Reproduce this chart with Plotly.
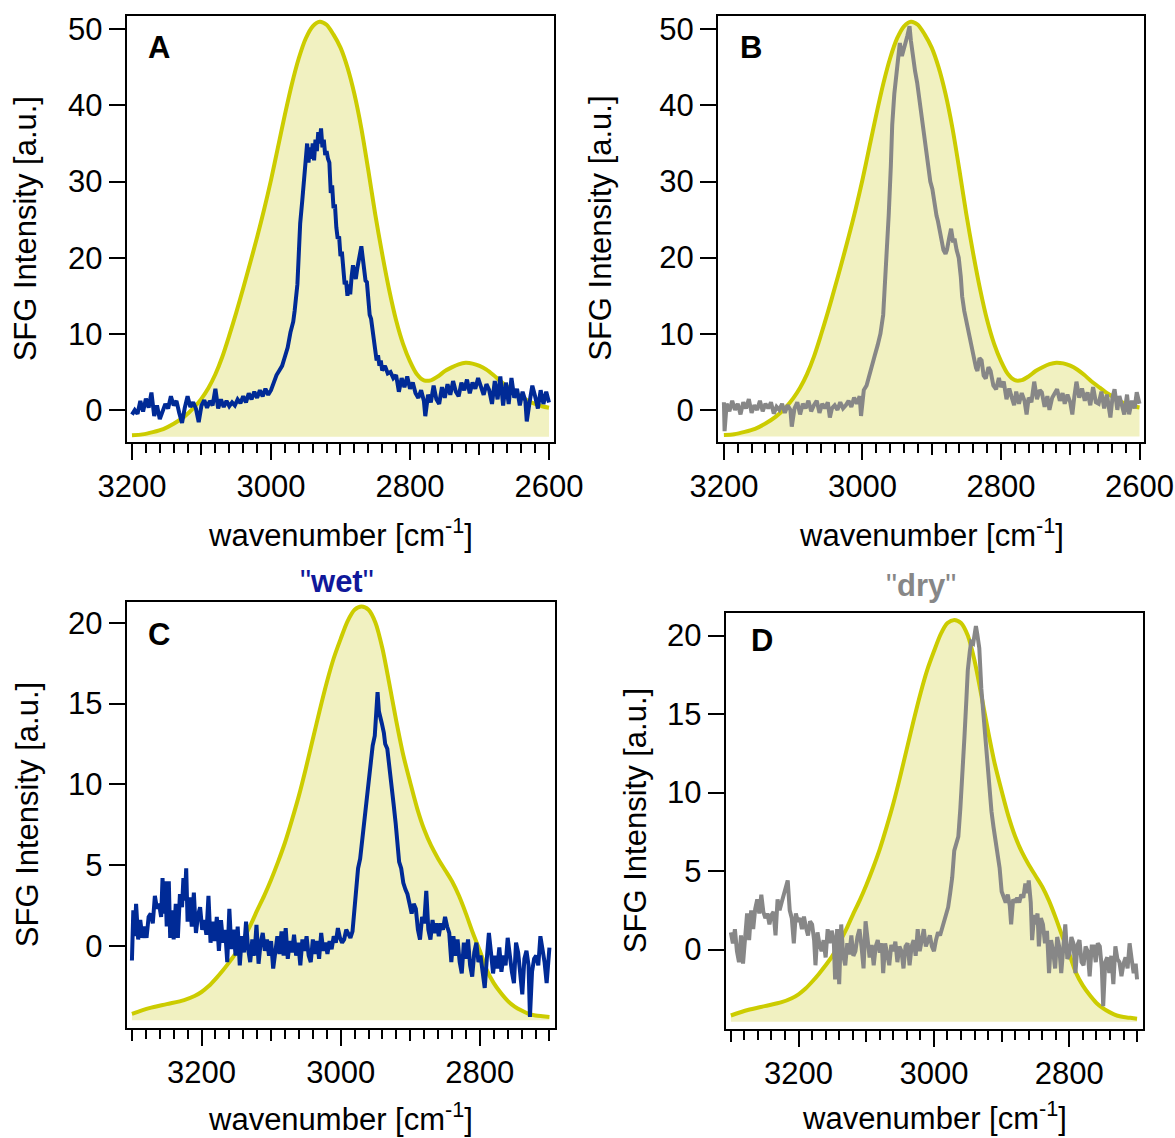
import plotly.graph_objects as go

FIG_W, FIG_H = 1175, 1138
FONT = "Liberation Sans, Arial, Helvetica, sans-serif"
BLUE = "#002A96"
WET_TITLE = "#10189A"
GRAY = "#878787"
FIT_LINE = "#CCCC00"
FIT_FILL = "#F1F1C1"

# ---------------- data (wavenumber [cm-1], SFG intensity [a.u.]) ----------------
WET_AB = [(3200, -0.6), (3196, 0.0), (3192, -0.5), (3188, 1.2), (3184, -0.2), (3180, 1.5), (3176, 0.3),
          (3172, 2.3), (3168, -0.8), (3164, 0.6), (3160, -1.2), (3156, -0.3), (3152, 0.8), (3148, 0.2),
          (3144, 1.8), (3140, 0.6), (3136, 1.2), (3132, -0.4), (3128, -1.7), (3124, 0.3), (3120, 1.8),
          (3116, 0.4), (3112, 1.0), (3108, 0.2), (3104, -1.6), (3100, 0.6), (3096, 1.3), (3092, 0.3),
          (3088, 1.2), (3084, 0.6), (3080, 2.8), (3076, 0.2), (3072, 1.4), (3068, 0.4), (3064, 1.2),
          (3060, 0.5), (3056, 1.0), (3052, 0.6), (3048, 1.4), (3044, 0.9), (3040, 1.8), (3036, 1.0),
          (3032, 2.2), (3028, 1.4), (3024, 2.4), (3020, 1.6), (3016, 2.6), (3012, 1.8), (3008, 2.8),
          (3004, 2.0), (3000, 2.6), (2996, 3.6), (2992, 4.6), (2988, 5.2), (2984, 5.8), (2980, 7.0),
          (2976, 8.2), (2972, 10.2), (2968, 11.6), (2966, 13.0), (2962, 16.5), (2960, 20.5), (2958, 24.5),
          (2955, 27.5), (2952, 31.0), (2950, 33.5), (2948, 35.0), (2946, 32.5), (2944, 34.5), (2942, 33.0),
          (2940, 35.0), (2938, 32.8), (2936, 35.5), (2934, 34.0), (2932, 36.5), (2930, 35.0), (2928, 37.0),
          (2926, 34.5), (2924, 35.5), (2922, 33.5), (2920, 34.0), (2918, 33.0), (2916, 32.5), (2914, 28.5),
          (2912, 29.5), (2910, 26.5), (2908, 27.0), (2906, 24.0), (2904, 22.5), (2902, 22.8), (2900, 20.2),
          (2898, 20.8), (2896, 18.5), (2894, 16.5), (2892, 17.0), (2890, 15.0), (2888, 16.5), (2886, 15.2),
          (2884, 17.5), (2882, 19.0), (2880, 18.0), (2878, 17.2), (2876, 18.5), (2874, 19.5), (2872, 20.5),
          (2870, 21.5), (2868, 20.0), (2866, 18.5), (2864, 17.0), (2862, 16.8), (2860, 14.5), (2858, 12.5),
          (2856, 12.0), (2854, 10.5), (2852, 10.0), (2850, 8.0), (2848, 6.5), (2846, 7.2), (2844, 5.8),
          (2842, 6.5), (2840, 5.2), (2836, 5.8), (2832, 4.8), (2828, 5.0), (2824, 4.2), (2820, 4.6),
          (2816, 2.4), (2812, 4.2), (2808, 3.0), (2804, 4.4), (2800, 2.8), (2796, 3.6), (2792, 2.2),
          (2788, 1.6), (2784, 2.6), (2780, 1.2), (2778, -0.8), (2774, 2.0), (2770, 1.0), (2766, 3.2),
          (2762, 1.4), (2758, 0.8), (2754, 3.0), (2750, 1.6), (2746, 3.4), (2742, 2.0), (2738, 3.8),
          (2734, 2.4), (2730, 1.8), (2726, 3.6), (2722, 2.6), (2718, 4.0), (2714, 2.2), (2710, 3.6),
          (2706, 2.8), (2702, 4.2), (2698, 3.0), (2694, 2.0), (2690, 3.4), (2686, 2.6), (2682, 0.8),
          (2678, 3.8), (2674, 1.4), (2670, 4.4), (2666, 0.6), (2662, 3.6), (2658, 0.8), (2654, 4.2),
          (2650, 1.6), (2646, 2.8), (2642, 0.6), (2638, 2.4), (2634, 1.2), (2632, -1.5), (2628, 1.0),
          (2624, 3.2), (2620, 1.8), (2616, 0.2), (2612, 2.6), (2608, 0.8), (2604, 2.4), (2600, 1.0)]

DRY_AB = [(3200, 1.0), (3199, -2.8), (3196, 0.8), (3192, -0.2), (3188, 1.2), (3184, 0.0), (3180, 0.8),
          (3176, -0.6), (3172, 1.0), (3168, 0.2), (3164, 1.4), (3160, -0.4), (3156, 0.6), (3152, 0.0),
          (3148, 1.2), (3144, -0.2), (3140, 0.8), (3136, 0.2), (3132, 1.0), (3128, -0.5), (3124, 0.4),
          (3120, 0.0), (3116, 0.8), (3112, -0.4), (3108, 0.6), (3104, 0.0), (3102, -2.2), (3098, 0.2),
          (3094, 1.0), (3090, -0.6), (3086, 0.8), (3082, 0.2), (3078, 1.2), (3074, -0.2), (3070, 0.6),
          (3066, 1.2), (3062, -0.4), (3058, 0.8), (3054, 0.2), (3050, 1.0), (3047, -1.0), (3044, 0.2),
          (3040, 0.6), (3036, 0.0), (3032, 1.0), (3028, 0.2), (3024, 0.6), (3020, 1.2), (3016, 0.4),
          (3012, 1.6), (3008, 0.8), (3004, 1.8), (3002, -0.8), (2998, 2.6), (2994, 3.2), (2990, 4.4),
          (2986, 6.0), (2982, 7.2), (2978, 8.5), (2974, 10.0), (2970, 12.5), (2968, 15.4), (2965, 20.0),
          (2962, 25.7), (2959, 32.0), (2957, 37.4), (2954, 41.5), (2951, 44.5), (2948, 47.0), (2946, 48.2),
          (2943, 46.5), (2940, 47.3), (2937, 48.5), (2935, 49.2), (2932, 50.4), (2930, 48.5), (2927, 46.3),
          (2924, 44.5), (2921, 43.0), (2918, 41.0), (2916, 39.8), (2913, 37.5), (2910, 36.0), (2907, 33.5),
          (2905, 32.3), (2902, 30.0), (2899, 29.0), (2896, 27.0), (2893, 25.5), (2891, 24.8), (2888, 23.5),
          (2886, 22.0), (2883, 21.0), (2880, 20.5), (2878, 21.0), (2875, 22.5), (2872, 23.8), (2869, 22.0),
          (2867, 22.5), (2864, 21.0), (2861, 20.0), (2858, 17.5), (2856, 14.9), (2853, 13.0), (2850, 11.6),
          (2847, 10.5), (2845, 9.8), (2842, 8.0), (2839, 6.5), (2836, 5.5), (2834, 5.1), (2831, 6.8),
          (2828, 6.5), (2825, 4.5), (2822, 4.1), (2818, 5.6), (2815, 5.1), (2811, 3.2), (2807, 2.7),
          (2803, 4.2), (2800, 3.0), (2796, 3.7), (2792, 1.4), (2788, 2.8), (2785, 1.8), (2781, 0.6),
          (2778, 2.4), (2774, 0.8), (2770, 2.2), (2766, 1.2), (2763, -0.6), (2760, 1.6), (2756, 1.0),
          (2752, 3.7), (2748, 1.4), (2744, 2.6), (2741, 2.3), (2737, 0.4), (2733, 1.8), (2730, 0.0),
          (2726, 1.6), (2722, 2.4), (2719, 2.7), (2715, 1.2), (2711, 2.2), (2708, 0.8), (2704, 2.0),
          (2700, 1.0), (2697, -0.6), (2694, 1.8), (2691, 3.7), (2687, 1.6), (2683, 2.8), (2679, 1.2),
          (2675, 2.3), (2671, 0.6), (2667, 3.0), (2663, 1.0), (2659, 0.8), (2655, 2.4), (2651, 0.2),
          (2647, 2.0), (2642, -1.0), (2639, 1.6), (2636, 2.7), (2632, 0.0), (2629, 1.8), (2626, 0.8),
          (2622, -0.6), (2618, 2.0), (2615, -0.6), (2611, 1.2), (2607, 0.2), (2604, 2.3), (2600, 0.8)]

WET_CD = [(3300, -0.9), (3298, 2.2), (3296, 0.6), (3294, 2.6), (3291, 0.4), (3288, 1.6), (3285, 0.5),
          (3282, 1.2), (3279, 0.5), (3276, 1.8), (3273, 2.0), (3270, 1.4), (3267, 3.1), (3264, 2.3),
          (3261, 2.6), (3258, 1.8), (3256, 4.2), (3254, 2.0), (3252, 4.0), (3250, 1.2), (3247, 4.0),
          (3245, 0.5), (3242, 2.2), (3240, 0.4), (3237, 2.6), (3234, 0.5), (3231, 3.2), (3228, 2.4),
          (3226, 4.2), (3224, 2.8), (3222, 4.8), (3220, 1.5), (3217, 3.0), (3214, 1.2), (3211, 3.3),
          (3208, 0.8), (3205, 1.9), (3202, 2.4), (3199, 1.0), (3196, 1.6), (3193, 0.7), (3190, 3.1),
          (3187, 0.2), (3184, 1.5), (3181, 0.3), (3178, 1.8), (3175, -0.3), (3172, 1.6), (3169, 0.2),
          (3166, 1.0), (3163, -1.0), (3160, 2.3), (3157, -0.2), (3154, 1.0), (3151, -0.6), (3148, 1.2),
          (3145, -1.2), (3142, 0.6), (3139, -0.4), (3136, 1.5), (3133, -0.2), (3130, -1.0), (3127, 0.4),
          (3124, -0.6), (3121, 1.3), (3118, -1.1), (3115, 0.2), (3112, 0.8), (3109, -0.3), (3106, 0.4),
          (3103, -0.6), (3100, 0.3), (3097, -1.4), (3094, -0.2), (3091, 0.6), (3088, -0.5), (3085, 0.9),
          (3082, -0.6), (3079, 1.1), (3076, -0.8), (3073, 0.3), (3070, -0.4), (3067, 0.7), (3064, -0.6),
          (3061, 0.2), (3058, -1.2), (3055, 0.4), (3052, -0.3), (3049, 0.6), (3046, -0.6), (3043, -1.0),
          (3040, 0.4), (3037, -0.5), (3034, 0.3), (3031, -0.8), (3028, 0.8), (3025, -0.3), (3022, 0.2),
          (3019, -0.5), (3016, 0.3), (3013, -0.2), (3010, 0.6), (3007, 0.2), (3004, 1.1), (3001, 0.5),
          (2998, 0.2), (2995, 0.4), (2992, 1.0), (2989, 0.7), (2986, 0.5), (2983, 0.9), (2980, 2.6),
          (2977, 4.0), (2975, 4.8), (2972, 5.4), (2969, 6.6), (2966, 7.9), (2963, 8.6), (2960, 9.8),
          (2957, 11.0), (2954, 12.4), (2951, 13.0), (2949, 14.3), (2947, 15.7), (2945, 14.5), (2943, 14.2),
          (2941, 13.8), (2938, 13.2), (2936, 12.5), (2933, 12.2), (2930, 11.2), (2927, 10.2), (2924, 8.8),
          (2921, 7.6), (2919, 6.5), (2916, 5.2), (2913, 4.8), (2910, 3.9), (2907, 3.5), (2904, 3.2),
          (2901, 2.6), (2898, 2.0), (2895, 2.6), (2892, 2.3), (2889, 1.0), (2886, 0.4), (2883, 1.8),
          (2880, 1.4), (2877, 3.4), (2874, 1.0), (2871, 0.4), (2868, 1.6), (2865, 0.8), (2862, 1.4),
          (2859, 0.6), (2856, 1.4), (2853, 1.0), (2850, 1.8), (2847, 1.2), (2844, 0.8), (2841, -1.0),
          (2838, 0.6), (2835, -0.6), (2832, 0.4), (2829, -1.0), (2826, -1.7), (2823, 0.2), (2820, -0.8),
          (2817, 0.4), (2814, -1.2), (2811, -1.9), (2808, -0.4), (2805, 0.2), (2802, -1.0), (2799, -0.6),
          (2796, -1.6), (2793, -2.6), (2790, -0.8), (2787, 0.8), (2784, -0.4), (2781, -1.7), (2778, -0.6),
          (2775, -1.4), (2772, -0.1), (2769, -1.6), (2766, -0.6), (2763, -1.2), (2760, 0.5), (2757, -0.8),
          (2754, -1.6), (2751, -2.3), (2748, 0.2), (2745, -0.4), (2742, -1.6), (2739, -3.0), (2736, -0.8),
          (2733, -0.3), (2730, -1.2), (2728, -4.4), (2725, -1.6), (2722, -0.8), (2719, -0.6), (2716, -1.2),
          (2713, 0.6), (2710, -0.2), (2707, -1.0), (2704, -2.3), (2701, -0.1), (2700, -0.1)]

DRY_CD = [(3300, 1.1), (3297, 0.4), (3294, 1.3), (3291, -0.1), (3288, -0.8), (3285, 0.9), (3282, -0.9),
          (3279, 0.8), (3276, 2.3), (3273, 0.6), (3270, 2.5), (3267, 1.3), (3264, 2.6), (3261, 3.2),
          (3258, 2.3), (3255, 3.5), (3252, 2.4), (3249, 2.0), (3246, 2.3), (3243, 1.6), (3240, 2.2),
          (3237, 2.4), (3234, 0.9), (3231, 3.2), (3228, 2.5), (3225, 3.0), (3222, 3.5), (3219, 3.9),
          (3216, 4.4), (3213, 2.5), (3210, 2.0), (3207, 0.4), (3204, 2.3), (3201, 1.8), (3198, 2.0),
          (3195, 1.3), (3192, 2.1), (3189, 1.4), (3186, 0.9), (3183, 1.8), (3180, 1.6), (3177, 0.6),
          (3175, -1.0), (3172, 1.1), (3169, 0.3), (3166, -0.1), (3163, 0.6), (3160, -0.5), (3157, 1.3),
          (3154, 0.4), (3151, 1.2), (3148, 0.6), (3146, -1.9), (3143, 1.3), (3140, -2.2), (3137, 1.6),
          (3134, -0.4), (3131, -1.0), (3128, 0.4), (3125, -0.3), (3122, 0.9), (3119, -0.4), (3116, -0.1),
          (3113, 0.8), (3110, 1.3), (3107, 0.2), (3104, -1.2), (3101, 1.8), (3098, 0.6), (3095, -0.5),
          (3092, 0.3), (3089, -1.0), (3086, 0.2), (3083, 0.6), (3080, -0.2), (3077, 0.4), (3075, -1.5),
          (3072, 0.4), (3069, -0.3), (3066, -1.0), (3063, 0.3), (3060, -0.1), (3057, 0.5), (3054, -0.8),
          (3051, 0.2), (3048, -0.1), (3045, -1.2), (3042, 0.2), (3039, 0.4), (3036, -1.0), (3033, 0.2),
          (3030, 0.6), (3027, -0.4), (3024, 1.3), (3021, -0.1), (3018, 0.6), (3015, 1.3), (3012, 0.2),
          (3009, 0.6), (3006, 0.9), (3003, 0.2), (3000, -0.1), (2997, 0.6), (2994, 1.1), (2991, 0.9),
          (2988, 1.3), (2985, 1.8), (2982, 2.2), (2979, 2.7), (2976, 3.6), (2973, 4.6), (2970, 6.3),
          (2967, 6.8), (2964, 7.2), (2961, 9.0), (2958, 11.0), (2955, 13.5), (2952, 16.0), (2950, 17.8),
          (2947, 19.0), (2945, 19.6), (2942, 19.5), (2940, 20.2), (2938, 20.6), (2936, 20.1), (2933, 19.2),
          (2930, 16.6), (2927, 15.0), (2924, 13.8), (2921, 12.0), (2918, 10.5), (2915, 8.8), (2912, 7.8),
          (2909, 7.0), (2906, 6.0), (2903, 5.2), (2900, 3.7), (2897, 3.3), (2894, 3.0), (2891, 3.5),
          (2888, 2.8), (2886, 1.6), (2883, 3.2), (2880, 3.0), (2877, 3.3), (2874, 3.0), (2871, 3.5),
          (2868, 3.3), (2865, 4.2), (2862, 3.6), (2860, 4.4), (2857, 3.0), (2855, 0.6), (2852, 2.2),
          (2850, 1.6), (2847, 2.3), (2845, 0.2), (2842, 2.0), (2839, 1.6), (2836, 0.4), (2833, 1.2),
          (2830, -1.5), (2827, 0.6), (2824, -0.1), (2821, -1.2), (2818, 0.8), (2815, 0.2), (2812, -1.5),
          (2809, 0.3), (2806, 1.6), (2803, -0.6), (2800, -0.3), (2797, 0.8), (2794, 0.4), (2791, -1.5),
          (2788, 0.3), (2785, 0.6), (2782, -0.8), (2779, -1.0), (2776, 0.2), (2773, -0.1), (2770, -1.7),
          (2767, 0.2), (2764, 0.2), (2761, -0.8), (2758, 0.4), (2755, 0.2), (2752, -1.2), (2750, -3.6),
          (2747, -0.8), (2744, -0.5), (2741, -1.5), (2738, -0.4), (2735, -2.2), (2732, 0.2), (2729, -0.6),
          (2726, -0.8), (2723, -1.7), (2720, -0.9), (2717, -0.5), (2714, -1.2), (2711, 0.4), (2708, -0.6),
          (2705, -1.5), (2702, -0.9), (2700, -1.9)]

FIT_AB = [(3200, -3.3), (3185, -3.2), (3170, -2.9), (3155, -2.5), (3140, -1.8), (3125, -0.9), (3110, 0.4),
          (3100, 1.5), (3090, 2.9), (3080, 4.7), (3070, 7.0), (3060, 9.8), (3050, 12.8), (3040, 16.0),
          (3030, 19.3), (3020, 22.7), (3010, 26.3), (3000, 30.2), (2990, 34.5), (2980, 38.8), (2970, 42.8),
          (2960, 46.2), (2950, 48.8), (2940, 50.4), (2930, 51.0), (2920, 50.6), (2910, 49.3), (2900, 47.6),
          (2890, 45.0), (2880, 41.5), (2870, 37.0), (2860, 31.5), (2850, 25.7), (2840, 20.5), (2830, 15.8),
          (2820, 11.8), (2810, 8.7), (2800, 6.4), (2790, 4.7), (2780, 3.9), (2770, 3.9), (2760, 4.4),
          (2750, 5.1), (2740, 5.6), (2730, 6.0), (2720, 6.2), (2710, 6.1), (2700, 5.8), (2690, 5.3),
          (2680, 4.6), (2670, 3.8), (2660, 3.1), (2650, 2.4), (2640, 1.8), (2630, 1.2), (2620, 0.8),
          (2610, 0.5), (2600, 0.3)]

FIT_CD = [(3300, -4.2), (3275, -3.85), (3250, -3.6), (3225, -3.35), (3210, -3.1), (3200, -2.85), (3190, -2.5),
          (3180, -2.05), (3170, -1.55), (3160, -1.0), (3150, -0.4), (3140, 0.4), (3130, 1.25), (3120, 2.2),
          (3110, 3.1), (3100, 4.1), (3090, 5.2), (3080, 6.4), (3070, 7.8), (3060, 9.3), (3050, 11.0),
          (3040, 12.8), (3030, 14.6), (3020, 16.3), (3010, 17.8), (3000, 19.0), (2990, 20.1), (2980, 20.8),
          (2970, 21.0), (2960, 20.8), (2950, 20.0), (2940, 18.4), (2930, 16.2), (2920, 13.9), (2910, 11.8),
          (2900, 10.1), (2890, 8.5), (2880, 7.2), (2870, 6.2), (2860, 5.4), (2850, 4.7), (2840, 4.0),
          (2830, 3.1), (2820, 2.0), (2810, 0.8), (2800, -0.3), (2790, -1.5), (2780, -2.3), (2770, -2.9),
          (2760, -3.4), (2750, -3.75), (2740, -4.0), (2730, -4.2), (2720, -4.3), (2710, -4.35), (2700, -4.4)]

FILL_BASE_AB = -3.5
FILL_BASE_CD = -4.6
X_LABELS_AB = [3200, 3000, 2800, 2600]
X_LABELS_CD = [3200, 3000, 2800]
Y_TICKS_AB = [0, 10, 20, 30, 40, 50]
Y_TICKS_CD = [0, 5, 10, 15, 20]

# ---------------- layout geometry (pixels of the 1175 x 1138 page) ----------------
panels = [
    dict(letter="A", data=WET_AB, color=BLUE, fit=FIT_AB, base=FILL_BASE_AB,
         xr=(3207.6, 2592.8), yr=(-4.16, 51.75), frame=(126.7, 554.0, 16.0, 441.7),
         xlab=X_LABELS_AB, yt=Y_TICKS_AB, letter_pos=(158.5, 47.5), ytitle_x=25.5, xtitle_base=542.5),
    dict(letter="B", data=DRY_AB, color=GRAY, fit=FIT_AB, base=FILL_BASE_AB,
         xr=(3208.5, 2593.5), yr=(-4.16, 51.75), frame=(718.0, 1144.0, 16.0, 441.5),
         xlab=X_LABELS_AB, yt=Y_TICKS_AB, letter_pos=(751.0, 47.5), ytitle_x=601.0, xtitle_base=542.5),
    dict(letter="C", data=WET_CD, color=BLUE, fit=FIT_CD, base=FILL_BASE_CD,
         xr=(3307.5, 2692.0), yr=(-5.06, 21.3), frame=(126.7, 555.0, 601.7, 1027.7),
         xlab=X_LABELS_CD, yt=Y_TICKS_CD, letter_pos=(158.5, 634.5), ytitle_x=27.5, xtitle_base=1127.0),
    dict(letter="D", data=DRY_CD, color=GRAY, fit=FIT_CD, base=FILL_BASE_CD,
         xr=(3307.6, 2691.5), yr=(-5.06, 21.42), frame=(725.7, 1142.8, 613.3, 1029.0),
         xlab=X_LABELS_CD, yt=Y_TICKS_CD, letter_pos=(762.0, 640.5), ytitle_x=635.0, xtitle_base=1126.0),
]

fig = go.Figure()
layout = {}
annotations = []
TICK_FONT = dict(family=FONT, size=31, color="black")


def px(xp):
    return xp / FIG_W


def py(yp):
    return 1 - yp / FIG_H


for i, p in enumerate(panels, start=1):
    s = "" if i == 1 else str(i)
    xa, ya = "x" + s, "y" + s
    ov = str(i + 4)
    L, R, T, B = p["frame"]
    hi, lo = p["xr"]

    fit_wn = [w for w, _ in p["fit"]]
    fit_val = [v for _, v in p["fit"]]
    fig.add_trace(go.Scatter(x=fit_wn, y=[p["base"]] * len(fit_wn), mode="lines",
                             line=dict(width=0, color=FIT_FILL, shape="spline"),
                             xaxis=xa, yaxis=ya, hoverinfo="skip", showlegend=False))
    fig.add_trace(go.Scatter(x=fit_wn, y=fit_val, mode="lines",
                             line=dict(color=FIT_LINE, width=4, shape="spline", smoothing=0.8),
                             fill="tonexty", fillcolor=FIT_FILL,
                             xaxis=xa, yaxis=ya, showlegend=False, name="fit"))
    fig.add_trace(go.Scatter(x=[w for w, _ in p["data"]], y=[v for _, v in p["data"]], mode="lines",
                             line=dict(color=p["color"], width=4),
                             xaxis=xa, yaxis=ya, showlegend=False, name="SFG"))
    fig.add_trace(go.Scatter(x=[], y=[], xaxis="x" + ov, yaxis=ya, showlegend=False, hoverinfo="skip"))

    minor_vals = [v for v in range(2600, 3320, 20) if v % 100 != 0 and lo <= v <= hi]
    mid_vals = [v for v in range(2600, 3400, 100) if v % 200 != 0 and lo <= v <= hi]

    layout["xaxis" + s] = dict(
        domain=[px(L), px(R)], anchor=ya, range=[hi, lo],
        tickmode="array", tickvals=p["xlab"], ticktext=[str(v) for v in p["xlab"]],
        ticks="outside", ticklen=16, tickwidth=2, tickcolor="black",
        showline=True, linecolor="black", linewidth=2, mirror=True,
        showgrid=False, zeroline=False, tickfont=TICK_FONT, ticklabelstandoff=0,
        minor=dict(tickmode="array", tickvals=minor_vals, ticks="outside", ticklen=9,
                   tickwidth=2, tickcolor="black", showgrid=False),
        automargin=False, fixedrange=True)
    layout["xaxis" + ov] = dict(
        overlaying=xa, anchor=ya, side="bottom", range=[hi, lo],
        tickmode="array", tickvals=mid_vals, ticks="outside", ticklen=12, tickwidth=2,
        tickcolor="black", showticklabels=False, showline=False, showgrid=False,
        zeroline=False, automargin=False, fixedrange=True)
    layout["yaxis" + s] = dict(
        domain=[py(B), py(T)], anchor=xa, range=list(p["yr"]),
        tickmode="array", tickvals=p["yt"], ticktext=[str(v) for v in p["yt"]],
        ticks="outside", ticklen=16, tickwidth=2, tickcolor="black",
        showline=True, linecolor="black", linewidth=2, mirror=True,
        showgrid=False, zeroline=False, tickfont=TICK_FONT, ticklabelstandoff=0,
        automargin=False, fixedrange=True)

    lx, ly = p["letter_pos"]
    annotations.append(dict(text="<b>%s</b>" % p["letter"], x=px(lx), y=py(ly), xref="paper", yref="paper",
                            xanchor="center", yanchor="middle", showarrow=False,
                            font=dict(family=FONT, size=31, color="black")))
    annotations.append(dict(text="SFG Intensity [a.u.]", textangle=-90, x=px(p["ytitle_x"]), y=py((T + B) / 2),
                            xref="paper", yref="paper", xanchor="center", yanchor="middle", showarrow=False,
                            font=dict(family=FONT, size=31, color="black")))
    annotations.append(dict(text="wavenumber [cm<sup>-1</sup>]", x=px((L + R) / 2), y=py(p["xtitle_base"] - 10),
                            xref="paper", yref="paper", xanchor="center", yanchor="middle", showarrow=False,
                            font=dict(family=FONT, size=31, color="black")))

annotations.append(dict(text='"<b>wet</b>"', x=px(336.7), y=py(581), xref="paper", yref="paper",
                        xanchor="center", yanchor="middle", showarrow=False,
                        font=dict(family=FONT, size=31, color=WET_TITLE)))
annotations.append(dict(text='"<b>dry</b>"', x=px(921), y=py(585.5), xref="paper", yref="paper",
                        xanchor="center", yanchor="middle", showarrow=False,
                        font=dict(family=FONT, size=31, color=GRAY)))

fig.update_layout(
    width=FIG_W, height=FIG_H, margin=dict(l=0, r=0, t=0, b=0, pad=0, autoexpand=False),
    paper_bgcolor="white", plot_bgcolor="white", showlegend=False,
    font=dict(family=FONT, size=31, color="black"),
    annotations=annotations, **layout)

fig.write_html("out.html", config={"displayModeBar": False},
               post_script="document.body.style.margin='0px';document.body.style.overflow='hidden';")
